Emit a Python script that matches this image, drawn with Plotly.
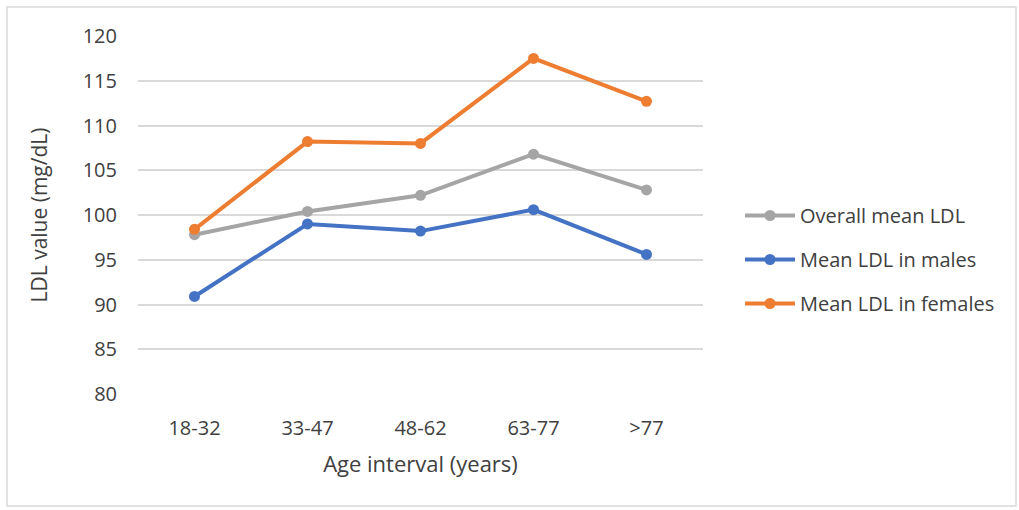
import plotly.graph_objects as go

age_groups = ["18-32", "33-47", "48-62", "63-77", ">77"]
overall_ldl = [97.8, 100.4, 102.2, 106.8, 102.8]
male_ldl = [90.9, 99.0, 98.2, 100.6, 95.6]
female_ldl = [98.4, 108.2, 108.0, 117.5, 112.7]

series = [
    ("Overall mean LDL", overall_ldl, "#A5A5A5"),
    ("Mean LDL in males", male_ldl, "#4472C4"),
    ("Mean LDL in females", female_ldl, "#ED7D31"),
]

W, H = 1019, 510
L, R, T, B = 138, 316, 36, 116
pw, ph = W - L - R, H - T - B

fig = go.Figure()
for name, vals, color in series:
    fig.add_trace(go.Scatter(
        x=age_groups, y=vals, name=name, mode="lines+markers",
        legendgroup=name,
        line=dict(color=color, width=4),
        marker=dict(color=color, size=11),
    ))

font_family = "Open Sans, Liberation Sans, sans-serif"
text_color = "#404040"

# Light frame around the whole chart area
def px_x(p):
    return (p - L) / pw

def px_y(p):
    return (H - B - p) / ph

fig.add_shape(type="rect", xref="paper", yref="paper",
              x0=px_x(7), x1=px_x(1016), y0=px_y(506), y1=px_y(7),
              line=dict(color="#D9D9D9", width=1.5), fillcolor="rgba(0,0,0,0)",
              layer="below")

fig.update_layout(
    width=W, height=H,
    margin=dict(l=L, r=R, t=T, b=B),
    paper_bgcolor="white", plot_bgcolor="white",
    font=dict(family=font_family, size=20, color=text_color),
    showlegend=True,
    legend=dict(x=px_x(740), y=px_y(196), xanchor="left", yanchor="top",
                font=dict(size=20, color=text_color), tracegroupgap=15,
                itemwidth=50, bgcolor="rgba(0,0,0,0)"),
    xaxis=dict(
        type="category", range=[-0.5, 4.5],
        showgrid=False, zeroline=False, showline=False, ticks="",
        tickfont=dict(size=20, color=text_color),
        ticklabelstandoff=20,
        title=dict(text="Age interval (years)", font=dict(size=22, color=text_color),
                   standoff=16),
    ),
    yaxis=dict(
        range=[80, 120], dtick=5, tick0=80,
        showgrid=True, gridcolor="#D9D9D9", gridwidth=1.5,
        zeroline=False, showline=False, ticks="",
        tickfont=dict(size=20, color=text_color),
        ticklabelstandoff=20,
        title=dict(text="LDL value (mg/dL)", font=dict(size=21, color=text_color),
                   standoff=29),
    ),
)

fig.write_html("out.html")
